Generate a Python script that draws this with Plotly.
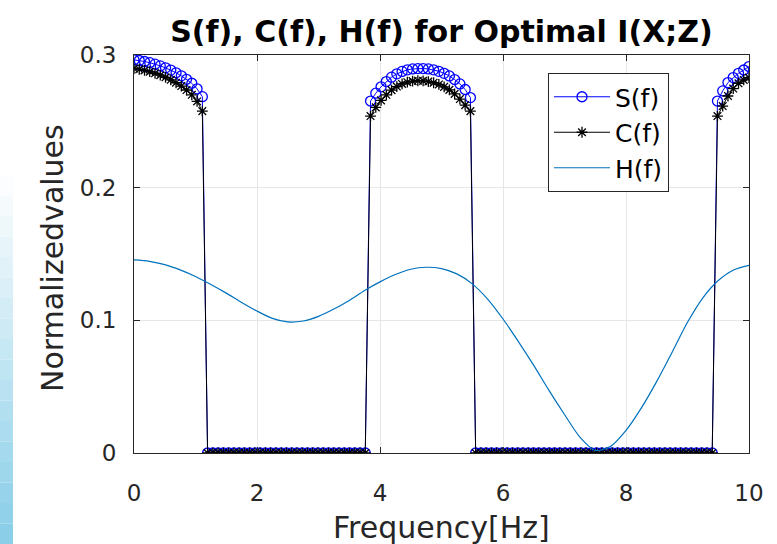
import numpy as np
import plotly.graph_objects as go

# ---------------- data ----------------
N_FREQ = 118            # frequency samples on 0..10 Hz
F_MAX = 10.0
freq = np.linspace(0.0, F_MAX, N_FREQ)

# S(f) / C(f) non-zero bands
S_SEG1 = [0.2963, 0.2958, 0.2951, 0.2942, 0.2931, 0.2918, 0.2903, 0.2886,
          0.2866, 0.2843, 0.2817, 0.2787, 0.2745, 0.2686]
C_SEG1 = [0.2898, 0.2892, 0.2884, 0.2874, 0.2862, 0.2848, 0.2832, 0.2813,
          0.2791, 0.2766, 0.2736, 0.2700, 0.2650, 0.2577]
N_ZERO1 = 31
S_SEG2 = [0.2653, 0.2712, 0.2760, 0.2800, 0.2833, 0.2858, 0.2876, 0.2888,
          0.2895, 0.2898, 0.2898, 0.2895, 0.2888, 0.2877, 0.2862, 0.2842,
          0.2815, 0.2782, 0.2740, 0.2679]
C_SEG2 = [0.2540, 0.2605, 0.2658, 0.2700, 0.2735, 0.2762, 0.2782, 0.2795,
          0.2803, 0.2806, 0.2805, 0.2800, 0.2791, 0.2778, 0.2760, 0.2737,
          0.2707, 0.2668, 0.2622, 0.2577]
N_ZERO2 = 46
S_SEG3 = [0.2653, 0.2729, 0.2792, 0.2830, 0.2862, 0.2887, 0.2913]
C_SEG3 = [0.2540, 0.2615, 0.2691, 0.2747, 0.2787, 0.2812, 0.2830]

S_vals = S_SEG1 + [0.0] * N_ZERO1 + S_SEG2 + [0.0] * N_ZERO2 + S_SEG3
C_vals = C_SEG1 + [0.0] * N_ZERO1 + C_SEG2 + [0.0] * N_ZERO2 + C_SEG3

# H(f) read every 0.25 Hz
H_FREQ = [0.00, 0.25, 0.50, 0.75, 1.00, 1.25, 1.50, 1.75, 2.00, 2.25, 2.50,
          2.75, 3.00, 3.25, 3.50, 3.75, 4.00, 4.25, 4.50, 4.75, 5.00, 5.25,
          5.50, 5.75, 6.00, 6.25, 6.50, 6.75, 7.00, 7.25, 7.50, 7.75, 8.00,
          8.25, 8.50, 8.75, 9.00, 9.25, 9.50, 9.75, 10.00]
H_VALS = [0.1455, 0.1445, 0.1420, 0.1380, 0.1330, 0.1270, 0.1205, 0.1135,
          0.1070, 0.1015, 0.0988, 0.0995, 0.1030, 0.1085, 0.1150, 0.1225,
          0.1290, 0.1345, 0.1385, 0.1400, 0.1390, 0.1350, 0.1275, 0.1160,
          0.1010, 0.0840, 0.0660, 0.0470, 0.0290, 0.0120, 0.0020, 0.0050,
          0.0170, 0.0340, 0.0540, 0.0760, 0.0985, 0.1170, 0.1300, 0.1380,
          0.1415]

X_TICKS = [0, 2, 4, 6, 8, 10]
Y_TICKS = [0, 0.1, 0.2, 0.3]
Y_TICK_TEXT = ["0", "0.1", "0.2", "0.3"]

TITLE = "S(f), C(f), H(f) for Optimal I(X;Z)"
X_LABEL = "Frequency[Hz]"
Y_LABEL = "Normalizedvalues"

# ---------------- figure ----------------
AX = "#262626"
fig = go.Figure()

fig.add_trace(go.Scatter(
    x=freq, y=S_vals, name="S(f)", mode="lines+markers",
    line=dict(color="#0000FF", width=1),
    marker=dict(symbol="circle-open", size=10, color="#0000FF",
                line=dict(color="#0000FF", width=1.3)),
))
fig.add_trace(go.Scatter(
    x=freq, y=C_vals, name="C(f)", mode="lines+markers",
    line=dict(color="#000000", width=1),
    marker=dict(symbol="asterisk-open", size=9, color="#000000",
                line=dict(color="#000000", width=1.3)),
))
fig.add_trace(go.Scatter(
    x=H_FREQ, y=H_VALS, name="H(f)", mode="lines",
    line=dict(color="#0072BD", width=1.2, shape="spline", smoothing=0.8),
))

W, Hh = 777, 544
ML, MR, MT, MB = 134, 28, 55, 91
pw = W - ML - MR
ph = Hh - MT - MB

# light-blue gradient strip on the left edge (background artefact)
n_band = 18
y_top_px, y_bot_px = 175, 544
for i in range(n_band):
    t = (i + 0.5) / n_band
    r = int(255 + (135 - 255) * t)
    g = int(255 + (205 - 255) * t)
    b = int(255 + (232 - 255) * t)
    y0_px = y_top_px + (y_bot_px - y_top_px) * i / n_band
    y1_px = y_top_px + (y_bot_px - y_top_px) * (i + 1) / n_band
    fig.add_shape(type="rect", xref="paper", yref="paper",
                  x0=(0 - ML) / pw, x1=(13 - ML) / pw,
                  y0=(Hh - MB - y1_px) / ph, y1=(Hh - MB - y0_px) / ph,
                  line=dict(width=0), fillcolor=f"rgb({r},{g},{b})",
                  layer="below")

axis_common = dict(
    showline=True, linecolor=AX, linewidth=1, mirror="ticks",
    ticks="inside", ticklen=6, tickcolor=AX, tickwidth=1,
    showgrid=True, gridcolor="#e6e6e6", gridwidth=1, zeroline=False,
    tickfont=dict(family="DejaVu Sans", size=23, color=AX),
)

fig.update_layout(
    width=W, height=Hh,
    margin=dict(l=ML, r=MR, t=MT, b=MB),
    paper_bgcolor="white", plot_bgcolor="white",
    title=dict(text=TITLE, x=(ML + pw / 2) / W, xanchor="center",
               y=1 - 31 / Hh, yanchor="middle",
               font=dict(family="DejaVu Sans", size=30, color="#000000",
                         weight="bold")),
    xaxis=dict(range=[0, 10], tickvals=X_TICKS, ticklabelstandoff=19,
               **axis_common),
    yaxis=dict(range=[0, 0.3], tickvals=Y_TICKS, ticktext=Y_TICK_TEXT,
               ticklabelstandoff=12, **axis_common),
    legend=dict(x=(548 - ML) / pw, y=(Hh - MB - 73) / ph,
                xanchor="left", yanchor="top",
                bgcolor="white", bordercolor=AX, borderwidth=1,
                font=dict(family="DejaVu Sans", size=25, color="#000000"),
                itemwidth=56, tracegroupgap=0),
    showlegend=True,
)

fig.add_annotation(text=X_LABEL, xref="paper", yref="paper",
                   x=0.5, y=(Hh - MB - 527) / ph, xanchor="center",
                   yanchor="middle", showarrow=False,
                   font=dict(family="DejaVu Sans", size=30, color=AX))
fig.add_annotation(text=Y_LABEL, xref="paper", yref="paper",
                   x=(52 - ML) / pw, y=(Hh - MB - 258) / ph,
                   xanchor="center", yanchor="middle", textangle=-90,
                   showarrow=False,
                   font=dict(family="DejaVu Sans", size=30, color=AX))

fig.write_html(
    "out.html",
    config={"displayModeBar": False},
    post_script="document.body.style.margin='0';"
                "document.body.style.overflow='hidden';",
)
